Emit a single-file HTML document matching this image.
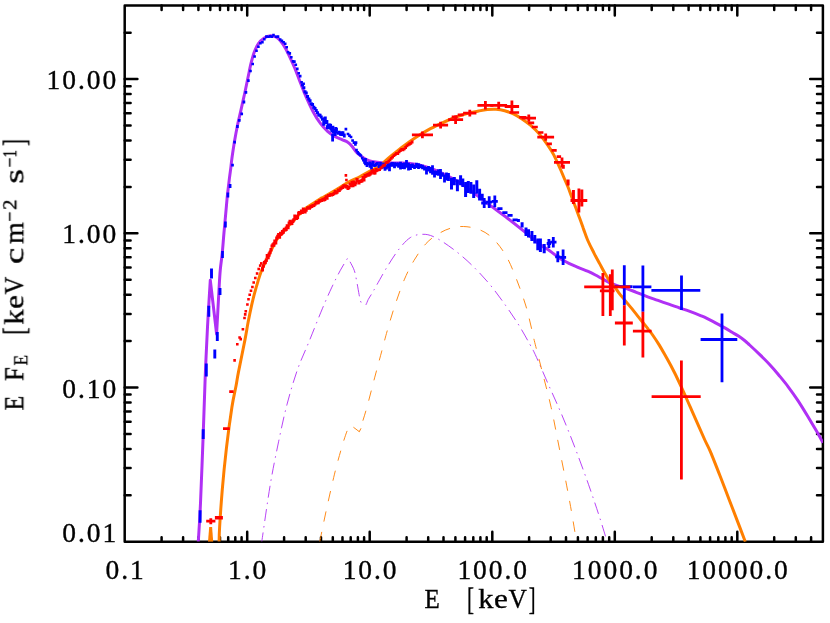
<!DOCTYPE html>
<html><head><meta charset="utf-8"><title>E FE spectrum</title>
<style>html,body{margin:0;padding:0;background:#fff}body{width:830px;height:623px;overflow:hidden;font-family:"Liberation Serif",serif}svg{display:block}</style>
</head><body>
<svg width="830" height="623" viewBox="0 0 830 623">
<rect width="830" height="623" fill="#fff"/>
<defs><clipPath id="cp"><rect x="124.7" y="5.5" width="698.2" height="536.2"/></clipPath></defs>
<g stroke="#000" fill="none">
<rect x="124.7" y="5.5" width="698.2" height="536.2" stroke-width="2.5" stroke-linejoin="round"/>
<path d="M161.6 541.7v-4.4M161.6 5.5v4.4M183.1 541.7v-4.4M183.1 5.5v4.4M198.4 541.7v-4.4M198.4 5.5v4.4M210.3 541.7v-4.4M210.3 5.5v4.4M220.0 541.7v-4.4M220.0 5.5v4.4M228.2 541.7v-4.4M228.2 5.5v4.4M235.3 541.7v-4.4M235.3 5.5v4.4M241.6 541.7v-4.4M241.6 5.5v4.4M247.2 541.7v-9.9M247.2 5.5v9.9M284.1 541.7v-4.4M284.1 5.5v4.4M305.7 541.7v-4.4M305.7 5.5v4.4M321.0 541.7v-4.4M321.0 5.5v4.4M332.8 541.7v-4.4M332.8 5.5v4.4M342.5 541.7v-4.4M342.5 5.5v4.4M350.7 541.7v-4.4M350.7 5.5v4.4M357.9 541.7v-4.4M357.9 5.5v4.4M364.1 541.7v-4.4M364.1 5.5v4.4M369.7 541.7v-9.9M369.7 5.5v9.9M406.6 541.7v-4.4M406.6 5.5v4.4M428.2 541.7v-4.4M428.2 5.5v4.4M443.5 541.7v-4.4M443.5 5.5v4.4M455.4 541.7v-4.4M455.4 5.5v4.4M465.1 541.7v-4.4M465.1 5.5v4.4M473.3 541.7v-4.4M473.3 5.5v4.4M480.4 541.7v-4.4M480.4 5.5v4.4M486.7 541.7v-4.4M486.7 5.5v4.4M492.3 541.7v-9.9M492.3 5.5v9.9M529.1 541.7v-4.4M529.1 5.5v4.4M550.7 541.7v-4.4M550.7 5.5v4.4M566.0 541.7v-4.4M566.0 5.5v4.4M577.9 541.7v-4.4M577.9 5.5v4.4M587.6 541.7v-4.4M587.6 5.5v4.4M595.8 541.7v-4.4M595.8 5.5v4.4M602.9 541.7v-4.4M602.9 5.5v4.4M609.2 541.7v-4.4M609.2 5.5v4.4M614.8 541.7v-9.9M614.8 5.5v9.9M651.7 541.7v-4.4M651.7 5.5v4.4M673.3 541.7v-4.4M673.3 5.5v4.4M688.6 541.7v-4.4M688.6 5.5v4.4M700.4 541.7v-4.4M700.4 5.5v4.4M710.1 541.7v-4.4M710.1 5.5v4.4M718.3 541.7v-4.4M718.3 5.5v4.4M725.4 541.7v-4.4M725.4 5.5v4.4M731.7 541.7v-4.4M731.7 5.5v4.4M737.3 541.7v-9.9M737.3 5.5v9.9M774.2 541.7v-4.4M774.2 5.5v4.4M795.8 541.7v-4.4M795.8 5.5v4.4M811.1 541.7v-4.4M811.1 5.5v4.4M124.7 495.3h5.9M822.9 495.3h-5.9M124.7 468.1h5.9M822.9 468.1h-5.9M124.7 448.9h5.9M822.9 448.9h-5.9M124.7 433.9h5.9M822.9 433.9h-5.9M124.7 421.7h5.9M822.9 421.7h-5.9M124.7 411.4h5.9M822.9 411.4h-5.9M124.7 402.4h5.9M822.9 402.4h-5.9M124.7 394.6h5.9M822.9 394.6h-5.9M124.7 387.5h12.7M822.9 387.5h-12.7M124.7 341.1h5.9M822.9 341.1h-5.9M124.7 313.9h5.9M822.9 313.9h-5.9M124.7 294.7h5.9M822.9 294.7h-5.9M124.7 279.7h5.9M822.9 279.7h-5.9M124.7 267.5h5.9M822.9 267.5h-5.9M124.7 257.2h5.9M822.9 257.2h-5.9M124.7 248.2h5.9M822.9 248.2h-5.9M124.7 240.4h5.9M822.9 240.4h-5.9M124.7 233.3h12.7M822.9 233.3h-12.7M124.7 186.9h5.9M822.9 186.9h-5.9M124.7 159.7h5.9M822.9 159.7h-5.9M124.7 140.5h5.9M822.9 140.5h-5.9M124.7 125.5h5.9M822.9 125.5h-5.9M124.7 113.3h5.9M822.9 113.3h-5.9M124.7 103.0h5.9M822.9 103.0h-5.9M124.7 94.0h5.9M822.9 94.0h-5.9M124.7 86.2h5.9M822.9 86.2h-5.9M124.7 79.1h12.7M822.9 79.1h-12.7M124.7 32.7h5.9M822.9 32.7h-5.9" stroke-width="2.5" stroke-linecap="round"/>
</g>
<g clip-path="url(#cp)" fill="none">
<g stroke="#b030f5" stroke-width="1.0" opacity="0.9">
<path d="M261.8 541.5 C263.2 532.1 267.4 501.7 270.2 485.0 C273.0 468.3 275.9 454.7 278.7 441.2 C281.5 427.7 284.0 415.9 287.1 404.1 C290.2 392.3 293.6 380.8 297.2 370.4 C300.8 360.0 304.8 352.0 309.0 341.7 C313.2 331.4 318.5 317.9 322.3 308.8 C326.1 299.7 328.9 293.5 331.9 287.1 C334.9 280.7 337.8 275.0 340.4 270.2 C343.0 265.4 346.4 260.2 347.6 258.2 C347.9 258.6 348.4 258.8 349.5 260.8 C350.6 262.9 353.1 267.1 354.3 270.5 C355.5 273.9 355.9 277.3 356.7 281.3 C357.5 285.3 358.5 291.4 359.1 294.6 C359.7 297.8 359.8 299.0 360.3 300.5 C360.8 302.0 361.2 303.0 362.2 303.6 C363.2 304.2 365.6 304.3 366.3 304.4 C366.6 303.6 367.3 301.3 368.3 299.4 C369.3 297.5 371.1 294.9 372.3 292.9 C373.5 290.9 372.8 292.0 375.3 287.6 C377.8 283.2 383.3 273.1 387.3 266.6 C391.3 260.1 395.5 253.5 399.4 248.6 C403.3 243.7 406.8 239.8 410.6 237.4 C414.5 235.0 418.5 234.4 422.5 234.3 C426.5 234.2 429.4 234.7 434.5 237.1 C439.6 239.5 446.8 244.4 453.0 249.0 C459.2 253.6 465.4 258.9 471.6 264.9 C477.8 270.9 484.4 277.9 490.1 284.8 C495.8 291.7 501.1 299.1 506.0 306.0 C510.9 312.9 515.3 319.5 519.3 325.9 C523.3 332.3 527.2 339.6 529.9 344.4 C532.6 349.2 532.3 348.3 535.3 354.7 C538.3 361.1 543.3 373.0 547.7 383.0 C552.1 393.0 557.1 403.6 561.8 414.8 C566.5 426.0 571.2 437.7 575.9 450.1 C580.6 462.5 586.0 477.2 590.1 489.0 C594.2 500.8 597.9 512.0 600.7 520.7 C603.5 529.5 606.0 538.0 607.0 541.5" stroke-dasharray="12 5 1.5 5" stroke-dashoffset="2.75"/>
</g>
<g stroke="#ff7f00" stroke-width="1.0" opacity="0.9">
<path d="M319.8 541.5 C320.8 536.6 323.5 523.1 325.9 512.0 C328.3 500.9 331.8 485.3 334.3 474.9 C336.8 464.5 339.0 457.0 341.1 449.6 C343.2 442.2 345.5 434.9 347.2 430.7 C348.9 426.5 350.8 425.5 351.5 424.5" stroke-dasharray="10.4 10.4" stroke-dashoffset="0.4"/>
<path d="M353.4 427.2L359.3 431.7L361 428.3"/>
<path d="M359.3 431.7 C360.5 427.9 363.8 418.2 366.4 409.1 C369.0 400.0 372.1 387.2 374.8 377.1 C377.5 367.0 380.4 356.2 382.5 348.4 C384.6 340.6 385.3 337.5 387.3 330.5 C389.3 323.5 391.8 314.8 394.6 306.4 C397.4 298.0 401.0 287.5 404.2 279.9 C407.4 272.3 410.3 266.6 413.9 260.6 C417.5 254.6 421.9 248.1 425.9 243.7 C429.9 239.3 434.0 236.6 438.0 234.1 C442.0 231.6 445.7 229.7 450.0 228.4 C454.3 227.1 458.7 226.3 463.6 226.5 C468.5 226.7 474.6 227.7 479.5 229.7 C484.4 231.7 488.4 234.1 492.8 238.4 C497.2 242.7 502.0 248.8 506.0 255.7 C510.0 262.6 513.3 271.1 516.6 279.5 C519.9 287.9 523.2 297.2 525.9 306.0 C528.5 314.8 531.1 326.7 532.5 332.5 C533.9 338.3 532.6 334.0 534.3 340.6 C535.9 347.2 539.6 361.2 542.4 372.4 C545.2 383.6 548.6 395.9 551.2 407.7 C553.9 419.5 555.9 431.2 558.3 443.0 C560.6 454.8 563.2 467.8 565.3 478.4 C567.3 489.0 568.7 496.1 570.6 506.6 C572.5 517.1 575.5 535.7 576.5 541.5" stroke-dasharray="10.3 10.46" stroke-dashoffset="9.06"/>
</g>
<path d="M198.3 541.5 C198.7 535.1 199.7 520.8 200.5 503.0 C201.3 485.2 202.4 455.1 203.2 434.6 C204.0 414.1 204.6 393.8 205.1 380.0 C205.6 366.2 205.8 362.6 206.3 352.0 C206.8 341.4 207.4 328.2 208.1 316.2 C208.8 304.2 209.9 286.2 210.3 280.2 L216.6 334 L216.6 334.0 C217.0 326.9 218.3 302.2 218.9 291.5 C219.5 280.8 219.7 276.1 220.3 269.6 C220.9 263.1 221.7 258.9 222.3 252.7 C222.9 246.5 223.4 239.0 224.0 232.5 C224.6 226.0 225.1 220.1 225.7 213.9 C226.3 207.7 226.8 201.0 227.4 195.4 C228.0 189.8 228.7 184.5 229.2 180.2 C229.7 175.9 230.1 173.2 230.6 169.5 C231.1 165.8 231.3 162.5 232.0 157.7 C232.7 152.9 233.7 146.1 234.6 140.8 C235.5 135.5 236.4 130.5 237.4 125.7 C238.4 120.9 239.5 116.7 240.5 112.2 C241.5 107.7 242.5 103.2 243.5 98.7 C244.5 94.2 245.5 89.7 246.4 85.2 C247.3 80.7 248.4 75.5 249.2 71.7 C250.0 67.9 250.4 65.5 251.3 62.2 C252.2 58.9 253.2 54.9 254.4 51.8 C255.6 48.7 256.8 45.9 258.4 43.6 C260.0 41.3 262.3 39.3 264.3 38.0 C266.3 36.7 268.4 35.8 270.4 35.7 C272.4 35.6 274.6 36.3 276.4 37.3 C278.2 38.3 279.6 39.9 281.2 41.9 C282.8 43.9 284.4 46.4 286.0 49.3 C287.6 52.2 289.2 55.8 290.8 59.3 C292.4 62.8 294.1 66.5 295.7 70.4 C297.3 74.4 298.8 78.7 300.5 83.0 C302.2 87.3 303.8 91.7 305.9 96.5 C308.0 101.3 310.7 107.3 313.1 111.8 C315.5 116.3 318.0 120.2 320.4 123.4 C322.8 126.7 325.2 129.1 327.6 131.3 C330.0 133.5 332.4 135.0 334.8 136.4 C337.2 137.8 339.8 138.6 342.0 139.6 C344.2 140.6 346.1 141.0 347.8 142.2 C349.5 143.3 350.8 144.8 352.2 146.5 C353.6 148.2 355.1 150.8 356.5 152.3 C357.9 153.8 358.8 154.4 360.4 155.6 C362.0 156.8 364.1 158.3 366.0 159.3 C367.9 160.3 369.0 160.8 372.0 161.4 C375.0 162.0 380.1 162.6 384.1 162.9 C388.1 163.2 392.1 162.9 396.1 163.0 C400.1 163.1 404.2 162.8 408.2 163.2 C412.2 163.6 416.2 164.4 420.2 165.3 C424.2 166.2 428.3 167.4 432.3 168.9 C436.3 170.4 440.3 172.4 444.3 174.3 C448.3 176.2 452.8 178.5 456.4 180.6 C460.0 182.7 463.2 184.9 466.1 187.0 C469.0 189.1 469.7 189.8 473.7 192.9 C477.7 196.0 484.6 201.2 490.2 205.4 C495.8 209.6 501.9 213.9 507.5 218.2 C513.1 222.5 518.7 227.0 524.1 231.4 C529.5 235.8 535.8 241.3 540.0 244.5 C544.2 247.7 546.4 248.4 549.6 250.7 C552.8 252.9 556.1 255.9 559.3 258.0 C562.5 260.1 565.7 261.7 568.9 263.3 C572.1 264.9 575.4 266.2 578.6 267.6 C581.8 269.0 585.0 269.9 588.2 271.4 C591.4 272.8 594.6 274.6 597.8 276.3 C601.0 278.0 604.6 280.2 607.5 281.6 C610.4 283.1 612.2 283.9 615.2 285.0 C618.2 286.1 621.9 286.9 625.4 288.1 C628.9 289.3 632.7 290.9 636.3 292.3 C639.9 293.7 643.5 295.2 647.1 296.6 C650.7 298.0 654.4 299.1 658.0 300.4 C661.6 301.7 665.2 302.9 668.8 304.2 C672.4 305.5 676.0 306.8 679.6 308.0 C683.2 309.2 687.0 310.4 690.5 311.7 C694.0 313.0 697.9 314.5 700.5 315.6 C703.1 316.7 704.4 317.2 706.4 318.2 C708.4 319.2 710.6 320.3 712.8 321.4 C714.9 322.5 717.1 323.7 719.3 324.9 C721.4 326.1 723.6 327.2 725.7 328.4 C727.8 329.6 730.0 331.0 732.1 332.3 C734.2 333.6 736.4 334.7 738.5 336.1 C740.6 337.5 743.0 339.3 744.9 340.8 C746.8 342.3 747.2 342.8 749.6 345.0 C752.0 347.2 756.1 351.0 759.3 354.1 C762.5 357.2 765.7 360.3 768.9 363.7 C772.1 367.1 775.3 370.8 778.5 374.7 C781.7 378.6 785.0 382.5 788.2 386.8 C791.4 391.1 794.6 395.5 797.8 400.3 C801.0 405.1 804.2 410.4 807.4 415.7 C810.6 421.0 814.5 427.6 817.1 432.1 C819.7 436.6 821.9 440.9 822.9 442.7" stroke="#b030f5" stroke-width="3.0" stroke-linejoin="round"/>
<path d="M219.1 541.5 C219.2 539.2 219.1 536.2 219.6 527.5 C220.1 518.8 221.2 502.5 222.3 489.3 C223.4 476.1 224.8 462.0 226.4 448.3 C228.0 434.6 230.3 417.7 231.9 407.3 C233.5 396.9 234.9 391.8 236.0 386.0 C237.1 380.2 236.9 380.1 238.4 372.4 C239.9 364.7 243.4 348.0 245.0 339.6 C246.6 331.2 247.0 328.1 248.1 322.3 C249.2 316.5 250.4 310.7 251.7 304.9 C253.0 299.1 254.5 293.1 256.1 287.6 C257.7 282.1 259.3 276.5 261.1 271.7 C262.9 266.9 265.2 262.3 266.9 258.7 C268.6 255.1 269.8 252.9 271.3 250.0 C272.8 247.1 274.2 243.6 275.7 241.2 C277.1 238.8 278.4 237.2 280.0 235.3 C281.6 233.4 283.3 231.4 285.0 229.6 C286.7 227.8 288.3 226.0 290.0 224.3 C291.7 222.6 293.3 220.9 295.0 219.2 C296.7 217.4 298.1 215.7 300.0 213.8 C301.9 211.9 304.1 209.7 306.5 207.8 C308.9 206.0 311.9 204.2 314.2 202.7 C316.4 201.2 318.4 199.9 320.0 198.9 C321.6 197.9 321.4 198.2 324.1 196.7 C326.8 195.2 332.1 192.2 336.1 189.8 C340.1 187.4 344.2 184.5 348.2 182.3 C352.2 180.1 356.2 178.6 360.2 176.5 C364.2 174.4 369.0 171.6 372.3 169.9 C375.6 168.2 378.0 167.4 380.0 166.1 C382.0 164.8 382.3 163.6 384.3 161.8 C386.3 160.0 388.7 157.9 392.0 155.2 C395.3 152.5 400.1 148.6 404.1 145.6 C408.1 142.6 412.1 139.8 416.1 137.2 C420.1 134.6 424.2 132.1 428.2 129.9 C432.2 127.7 436.2 125.8 440.2 123.9 C444.2 122.0 448.3 120.1 452.3 118.5 C456.3 116.9 461.4 115.2 464.3 114.3 C467.2 113.4 467.6 113.5 470.0 112.9 C472.4 112.4 475.8 111.6 478.7 111.0 C481.6 110.4 484.4 109.8 487.3 109.5 C490.2 109.2 493.1 109.0 496.0 109.2 C498.9 109.4 501.8 109.9 504.7 110.7 C507.6 111.5 510.5 112.5 513.4 113.9 C516.3 115.3 519.1 117.0 522.0 118.9 C524.9 120.8 527.8 122.9 530.7 125.4 C533.6 127.9 536.5 130.7 539.4 134.1 C542.3 137.5 545.7 142.2 548.1 145.7 C550.5 149.2 551.9 151.2 553.9 155.1 C555.9 159.0 558.6 165.2 560.3 169.0 C562.0 172.8 562.8 175.0 564.1 178.0 C565.4 181.0 566.7 183.8 568.0 187.0 C569.3 190.2 570.5 193.8 571.8 197.2 C573.1 200.6 574.4 204.1 575.7 207.5 C577.0 210.9 578.2 214.4 579.5 217.8 C580.8 221.2 581.9 224.4 583.2 228.1 C584.6 231.8 585.8 235.8 587.6 240.0 C589.4 244.2 592.0 249.1 594.0 253.1 C596.0 257.1 597.9 260.4 599.8 263.9 C601.7 267.4 603.7 271.3 605.5 274.3 C607.3 277.3 608.6 279.6 610.4 282.0 C612.2 284.4 614.5 286.7 616.1 288.8 C617.7 290.9 617.5 291.3 620.0 294.4 C622.5 297.5 627.2 303.0 630.8 307.4 C634.4 311.8 638.8 317.4 641.7 321.0 C644.6 324.6 646.6 327.0 648.2 329.1 C649.9 331.2 649.8 330.8 651.6 333.5 C653.5 336.2 656.7 340.9 659.3 345.1 C661.9 349.3 664.4 354.0 667.0 358.6 C669.6 363.2 672.1 367.9 674.7 373.0 C677.3 378.1 679.8 383.8 682.4 389.4 C685.0 395.0 687.5 400.9 690.1 406.7 C692.7 412.5 695.4 418.6 697.8 424.1 C700.2 429.6 702.5 434.8 704.6 439.5 C706.7 444.2 708.1 446.2 710.6 452.1 C713.1 458.1 716.7 467.4 719.8 475.2 C722.9 483.0 725.9 491.2 729.0 499.2 C732.1 507.2 735.5 516.0 738.2 523.1 C740.9 530.2 744.1 538.6 745.3 541.7" stroke="#ff7f00" stroke-width="3.0" stroke-linejoin="round"/>
<path d="M208.0 541.7L209.2 527.1H212.1L213.2 541.7Z" fill="#ff7f00" stroke="none"/>
<g stroke="#0000ff" stroke-linecap="butt">
<path d="M211.5 268.5V278.5" stroke-width="2.9"/>
<path d="M220.0 288.0V295.0" stroke-width="2.9"/>
<path d="M208.8 305.7V316.7" stroke-width="2.9"/>
<path d="M217.3 331.9V340.9" stroke-width="2.9"/>
<path d="M214.8 349.4V358.4" stroke-width="2.9"/>
<path d="M206.3 363.6V376.6" stroke-width="2.9"/>
<path d="M203.2 429.3V438.9" stroke-width="2.9"/>
<path d="M200.1 510.2V522.8" stroke-width="2.9"/>
<path d="M222.5 250.9V257.9" stroke-width="2.7"/>
<path d="M225.4 221.4V227.4" stroke-width="2.7"/>
<path d="M227.9 192.5V197.5" stroke-width="2.7"/>
<path d="M230.1 184.1V188.1" stroke-width="2.7"/>
<path d="M232.5 163.8V166.6" stroke-width="2.7"/>
<path d="M234.6 140.8V143.6" stroke-width="2.7"/>
<path d="M237.4 125.1V127.9" stroke-width="2.7"/>
<path d="M239.3 118.9V121.7" stroke-width="2.7"/>
<path d="M241.7 112.5V115.3" stroke-width="2.7"/>
<path d="M243.9 100.6V103.4" stroke-width="2.7"/>
<path d="M245.9 91.0V93.8" stroke-width="2.7"/>
<path d="M248.4 79.3V81.9" stroke-width="2.6"/>
<path d="M250.5 69.7V72.3" stroke-width="2.6"/>
<path d="M252.7 62.7V65.3" stroke-width="2.6"/>
<path d="M254.6 55.2V57.8" stroke-width="2.6"/>
<path d="M256.5 49.4V52.0" stroke-width="2.6"/>
<path d="M258.4 45.4V48.0" stroke-width="2.6"/>
<path d="M260.4 42.0V44.6" stroke-width="2.6"/>
<path d="M262.4 40.9V43.5" stroke-width="2.6"/>
<path d="M264.3 38.0V40.6" stroke-width="2.6"/>
<path d="M266.4 35.3V37.9" stroke-width="2.6"/>
<path d="M268.4 35.5V38.1" stroke-width="2.6"/>
<path d="M270.3 35.1V37.7" stroke-width="2.6"/>
<path d="M271.9 35.5V38.1" stroke-width="2.6"/>
<path d="M273.5 33.8V36.4" stroke-width="2.6"/>
<path d="M276.1 35.5V38.1" stroke-width="2.6"/>
<path d="M278.0 35.3V37.9" stroke-width="2.6"/>
<path d="M280.2 38.2V40.8" stroke-width="2.6"/>
<path d="M281.9 39.6V42.2" stroke-width="2.6"/>
<path d="M283.6 41.0V43.6" stroke-width="2.6"/>
<path d="M285.2 42.5V45.1" stroke-width="2.6"/>
<path d="M286.7 45.9V48.5" stroke-width="2.6"/>
<path d="M288.1 51.0V53.6" stroke-width="2.6"/>
<path d="M289.8 52.1V54.7" stroke-width="2.6"/>
<path d="M291.3 56.0V58.6" stroke-width="2.6"/>
<path d="M293.0 60.1V62.7" stroke-width="2.6"/>
<path d="M294.4 60.3V62.9" stroke-width="2.6"/>
<path d="M295.8 63.4V66.0" stroke-width="2.6"/>
<path d="M297.3 67.6V70.2" stroke-width="2.6"/>
<path d="M298.7 71.9V74.5" stroke-width="2.6"/>
<path d="M300.2 74.8V77.4" stroke-width="2.6"/>
<path d="M301.6 81.0V83.6" stroke-width="2.6"/>
<path d="M303.6 82.5V85.1" stroke-width="2.6"/>
<path d="M302.5 83.6V86.6" stroke-width="3.1"/>
<path d="M303.8 86.3V89.3" stroke-width="3.1"/>
<path d="M305.0 90.2V93.2" stroke-width="3.1"/>
<path d="M306.2 91.6V94.6" stroke-width="3.1"/>
<path d="M307.5 95.1V98.1" stroke-width="3.1"/>
<path d="M308.8 97.4V100.4" stroke-width="3.1"/>
<path d="M310.0 99.3V102.3" stroke-width="3.1"/>
<path d="M311.2 102.2V105.2" stroke-width="3.1"/>
<path d="M312.5 103.1V106.1" stroke-width="3.1"/>
<path d="M313.8 105.7V108.7" stroke-width="3.1"/>
<path d="M315.0 107.0V110.0" stroke-width="3.1"/>
<path d="M316.2 108.9V111.9" stroke-width="3.1"/>
<path d="M317.5 111.2V114.2" stroke-width="3.1"/>
<path d="M318.8 113.5V116.5" stroke-width="3.1"/>
<path d="M320.0 113.7V116.7" stroke-width="3.1"/>
<path d="M321.2 115.5V118.5" stroke-width="3.1"/>
<path d="M322.5 117.8V120.8" stroke-width="3.1"/>
<path d="M323.8 120.7V125.8" stroke-width="3.1"/>
<path d="M324.5 117.6V123.9" stroke-width="3.1"/>
<path d="M325.2 116.6V122.6" stroke-width="3.1"/>
<path d="M326.0 120.2V123.9" stroke-width="3.1"/>
<path d="M326.8 119.9V124.1" stroke-width="3.1"/>
<path d="M327.5 125.2V129.0" stroke-width="3.1"/>
<path d="M328.2 124.0V129.2" stroke-width="3.1"/>
<path d="M329.0 123.7V128.7" stroke-width="3.1"/>
<path d="M329.8 123.5V126.9" stroke-width="3.1"/>
<path d="M330.5 124.0V129.3" stroke-width="3.1"/>
<path d="M331.2 126.4V130.6" stroke-width="3.1"/>
<path d="M332.0 127.6V132.2" stroke-width="3.1"/>
<path d="M332.8 125.8V131.5" stroke-width="3.1"/>
<path d="M333.5 129.5V133.4" stroke-width="3.1"/>
<path d="M334.2 128.7V133.6" stroke-width="3.1"/>
<path d="M335.0 130.5V136.1" stroke-width="3.1"/>
<path d="M335.8 127.0V133.3" stroke-width="3.1"/>
<path d="M336.5 128.0V131.7" stroke-width="2.8"/>
<path d="M337.8 131.7V134.8" stroke-width="2.8"/>
<path d="M339.1 130.8V133.7" stroke-width="2.8"/>
<path d="M340.4 131.4V135.7" stroke-width="2.8"/>
<path d="M341.7 131.6V136.1" stroke-width="2.8"/>
<path d="M343.0 131.3V135.5" stroke-width="2.8"/>
<path d="M344.3 133.5V137.5" stroke-width="2.8"/>
<path d="M332.6 133.9V141.5" stroke-width="2.8"/>
<path d="M345.9 127.8V130.5" stroke-width="2.7"/>
<path d="M348.0 132.7V135.3" stroke-width="2.7"/>
<path d="M349.5 134.2V136.9" stroke-width="2.7"/>
<path d="M351.0 135.7V138.3" stroke-width="2.7"/>
<path d="M352.6 139.2V141.8" stroke-width="2.7"/>
<path d="M354.0 141.2V143.9" stroke-width="2.7"/>
<path d="M355.4 143.1V145.8" stroke-width="2.7"/>
<path d="M356.0 141.2V143.9" stroke-width="2.7"/>
<path d="M356.5 148.8V151.4" stroke-width="2.7"/>
<path d="M357.7 151.0V153.7" stroke-width="2.7"/>
<path d="M358.7 152.3V155.0" stroke-width="2.7"/>
<path d="M359.8 153.2V155.8" stroke-width="2.7"/>
<path d="M360.8 154.2V156.8" stroke-width="2.7"/>
<path d="M362.3 156.8V159.4" stroke-width="2.7"/>
<path d="M363.4 158.8V161.5" stroke-width="2.7"/>
<path d="M364.5 161.1V163.8" stroke-width="2.7"/>
<path d="M365.5 158.1V165.3" stroke-width="2.8"/>
<path d="M367.0 161.7V167.1" stroke-width="2.8"/>
<path d="M368.5 162.3V165.6" stroke-width="2.8"/>
<path d="M370.0 161.4V167.7" stroke-width="2.8"/>
<path d="M371.5 162.5V169.6" stroke-width="2.8"/>
<path d="M373.0 161.1V166.0" stroke-width="2.8"/>
<path d="M374.5 163.8V166.9" stroke-width="2.8"/>
<path d="M376.0 162.8V166.6" stroke-width="2.8"/>
<path d="M377.5 161.9V165.2" stroke-width="2.8"/>
<path d="M379.0 164.5V168.1" stroke-width="2.8"/>
<path d="M380.5 161.9V166.9" stroke-width="2.8"/>
<path d="M382.0 165.3V168.7" stroke-width="2.8"/>
<path d="M383.5 162.6V168.3" stroke-width="2.8"/>
<path d="M385.0 163.7V170.8" stroke-width="2.8"/>
<path d="M386.5 165.1V169.5" stroke-width="2.8"/>
<path d="M388.0 163.1V167.9" stroke-width="2.8"/>
<path d="M389.5 163.5V171.3" stroke-width="2.8"/>
<path d="M391.0 162.5V166.4" stroke-width="2.8"/>
<path d="M392.5 162.1V166.8" stroke-width="2.8"/>
<path d="M394.5 162.3V168.3" stroke-width="2.8"/>
<path d="M396.5 162.5V166.6" stroke-width="2.8"/>
<path d="M398.5 162.4V167.8" stroke-width="2.8"/>
<path d="M400.5 161.8V169.5" stroke-width="2.8"/>
<path d="M402.5 163.0V169.1" stroke-width="2.8"/>
<path d="M404.5 162.4V169.2" stroke-width="2.8"/>
<path d="M406.5 159.9V167.8" stroke-width="2.8"/>
<path d="M408.5 162.7V170.6" stroke-width="2.8"/>
<path d="M410.5 164.0V169.9" stroke-width="2.8"/>
<path d="M412.5 163.5V168.0" stroke-width="2.8"/>
<path d="M414.5 164.8V169.1" stroke-width="2.8"/>
<path d="M416.5 162.8V167.9" stroke-width="2.8"/>
<path d="M418.5 163.2V169.0" stroke-width="2.8"/>
<path d="M420.5 164.2V168.2" stroke-width="2.8"/>
<path d="M422.5 164.7V169.3" stroke-width="2.8"/>
<path d="M424.5 166.2V170.4" stroke-width="2.8"/>
<path d="M426.5 166.9V174.5" stroke-width="2.8"/>
<path d="M428.5 165.9V171.5" stroke-width="2.8"/>
<path d="M430.5 167.0V173.2" stroke-width="2.8"/>
<path d="M432.5 165.3V174.8" stroke-width="2.8"/>
<path d="M434.5 170.4V177.5" stroke-width="2.8"/>
<path d="M436.5 170.7V175.3" stroke-width="2.8"/>
<path d="M438.5 169.3V175.7" stroke-width="2.8"/>
<path d="M440.5 169.1V179.0" stroke-width="2.8"/>
<path d="M442.5 172.5V176.7" stroke-width="2.8"/>
<path d="M444.5 174.5V182.4" stroke-width="2.8"/>
<path d="M446.5 172.5V180.6" stroke-width="2.8"/>
<path d="M448.5 173.0V181.1" stroke-width="2.8"/>
<path d="M451.5 177.7V189.5" stroke-width="3.0"/>
<path d="M454.3 176.9V185.3" stroke-width="3.0"/>
<path d="M457.4 179.4V191.2" stroke-width="3.0"/>
<path d="M460.6 175.2V185.2" stroke-width="3.0"/>
<path d="M462.8 178.6V187.0" stroke-width="3.0"/>
<path d="M465.6 181.9V197.1" stroke-width="3.0"/>
<path d="M468.3 181.1V192.9" stroke-width="3.0"/>
<path d="M470.9 181.9V193.7" stroke-width="3.0"/>
<path d="M473.7 184.5V197.9" stroke-width="3.0"/>
<path d="M476.8 180.3V193.7" stroke-width="3.0"/>
<path d="M479.6 188.7V200.5" stroke-width="3.0"/>
<path d="M482.2 193.7V200.5" stroke-width="3.0"/>
<path d="M484.2 198.0V208.0M481.2 203.0H487.2" stroke-width="2.8"/>
<path d="M489.2 196.3V208.1M486.2 202.2H492.2" stroke-width="2.8"/>
<path d="M494.8 195.4V207.2M491.8 201.3H497.8" stroke-width="2.8"/>
<path d="M499.9 207.4V209.8M497.3 208.6H502.5" stroke-width="2.8"/>
<path d="M504.9 211.4V213.8M502.3 212.6H507.5" stroke-width="2.8"/>
<path d="M510.0 214.1V216.5M507.4 215.3H512.6" stroke-width="2.8"/>
<path d="M515.1 218.7V221.1M512.5 219.9H517.7" stroke-width="2.8"/>
<path d="M518.4 218.9V221.9" stroke-width="3.0"/>
<path d="M522.1 222.3V227.5" stroke-width="3.0"/>
<path d="M526.0 227.5V235.9" stroke-width="3.0"/>
<path d="M528.5 229.2V237.6" stroke-width="3.0"/>
<path d="M531.9 230.9V240.9" stroke-width="3.0"/>
<path d="M534.8 235.1V243.5" stroke-width="3.0"/>
<path d="M537.8 238.4V250.2" stroke-width="3.0"/>
<path d="M540.4 238.5V251.9" stroke-width="3.0"/>
<path d="M544.2 244.0V253.2" stroke-width="3.0"/>
<path d="M548.9 238.9V248.1M546.7 243.5H551.1" stroke-width="2.8"/>
<path d="M553.3 236.9V247.5M550.1 242.2H556.5" stroke-width="2.8"/>
<path d="M557.8 251.3V262.3M555.2 256.8H560.4" stroke-width="2.8"/>
<path d="M563.1 249.6V265.0M560.1 257.3H566.1" stroke-width="2.8"/>
<path d="M624.3 265.2V305.2M614.5 286.6H632.6" stroke-width="2.8"/>
<path d="M642.9 265.6V311.7M633.0 286.8H651.4" stroke-width="2.8"/>
<path d="M681.5 275.4V310.1M651.4 290.4H700.3" stroke-width="2.8"/>
<path d="M722.0 313.4V382.2M700.6 339.5H737.3" stroke-width="2.8"/>
</g>
<g stroke="#ff0000">
<path d="M214.9 517.7H222.9" stroke-width="3.4"/>
<path d="M210.8 518.2V524.2M206.2 521.2H215.4" stroke-width="2.8"/>
<path d="M223.0 428.6H229.8" stroke-width="2.6"/>
<path d="M229.2 391.7H233.6" stroke-width="2.8"/>
<path d="M234.6 359.1V361.7" stroke-width="2.6"/>
<path d="M237.3 343.0V345.6" stroke-width="2.6"/>
<path d="M239.6 336.2V338.8" stroke-width="2.6"/>
<path d="M240.7 337.8V340.4" stroke-width="2.6"/>
<path d="M242.9 327.9V330.5" stroke-width="2.6"/>
<path d="M244.5 316.7V319.3" stroke-width="2.6"/>
<path d="M245.2 313.1V315.7" stroke-width="2.6"/>
<path d="M245.8 309.9V312.5" stroke-width="2.6"/>
<path d="M247.4 303.2V305.8" stroke-width="2.6"/>
<path d="M248.5 298.0V300.6" stroke-width="2.6"/>
<path d="M249.7 293.5V296.1" stroke-width="2.6"/>
<path d="M251.0 289.5V292.1" stroke-width="2.6"/>
<path d="M252.4 285.7V288.3" stroke-width="2.6"/>
<path d="M253.7 281.2V283.8" stroke-width="2.6"/>
<path d="M255.3 276.7V279.3" stroke-width="2.6"/>
<path d="M257.1 272.2V274.8" stroke-width="2.6"/>
<path d="M258.7 267.7V270.3" stroke-width="2.6"/>
<path d="M260.2 264.3V266.9" stroke-width="2.6"/>
<path d="M261.3 262.1V264.7" stroke-width="2.6"/>
<path d="M262.5 267.1V271.5" stroke-width="3.0"/>
<path d="M263.4 264.3V267.7" stroke-width="3.0"/>
<path d="M264.4 261.0V264.3" stroke-width="3.0"/>
<path d="M265.3 260.3V264.2" stroke-width="3.0"/>
<path d="M266.3 258.5V262.0" stroke-width="3.0"/>
<path d="M267.2 253.9V258.2" stroke-width="3.0"/>
<path d="M268.2 255.0V259.3" stroke-width="3.0"/>
<path d="M269.1 252.4V256.7" stroke-width="3.0"/>
<path d="M270.1 250.8V254.2" stroke-width="3.0"/>
<path d="M271.0 248.0V251.5" stroke-width="3.0"/>
<path d="M272.0 244.4V247.4" stroke-width="3.0"/>
<path d="M272.9 243.2V246.6" stroke-width="3.0"/>
<path d="M273.9 242.3V246.8" stroke-width="3.0"/>
<path d="M274.8 239.5V244.0" stroke-width="3.0"/>
<path d="M275.8 239.9V244.5" stroke-width="3.0"/>
<path d="M276.7 236.5V239.9" stroke-width="3.0"/>
<path d="M277.7 234.7V238.0" stroke-width="3.0"/>
<path d="M278.6 233.0V237.0" stroke-width="3.0"/>
<path d="M279.6 234.4V238.8" stroke-width="3.0"/>
<path d="M280.5 231.7V235.8" stroke-width="3.0"/>
<path d="M281.5 232.3V235.5" stroke-width="3.0"/>
<path d="M282.4 230.0V234.5" stroke-width="3.0"/>
<path d="M283.4 229.6V233.8" stroke-width="3.0"/>
<path d="M284.3 227.8V231.1" stroke-width="3.0"/>
<path d="M285.3 227.9V231.4" stroke-width="3.0"/>
<path d="M286.2 226.4V230.9" stroke-width="3.0"/>
<path d="M287.2 224.2V227.8" stroke-width="3.0"/>
<path d="M288.1 225.1V229.3" stroke-width="3.0"/>
<path d="M289.1 221.5V224.7" stroke-width="3.0"/>
<path d="M290.0 219.8V224.3" stroke-width="3.0"/>
<path d="M291.0 222.1V225.3" stroke-width="3.0"/>
<path d="M291.9 220.5V225.1" stroke-width="3.0"/>
<path d="M292.9 219.4V223.0" stroke-width="3.0"/>
<path d="M293.8 218.2V221.4" stroke-width="3.0"/>
<path d="M294.8 214.4V218.9" stroke-width="3.0"/>
<path d="M295.7 216.3V220.1" stroke-width="3.0"/>
<path d="M296.7 216.4V220.1" stroke-width="3.0"/>
<path d="M297.6 214.8V219.1" stroke-width="3.0"/>
<path d="M298.6 211.6V215.0" stroke-width="3.0"/>
<path d="M299.5 210.9V214.3" stroke-width="3.0"/>
<path d="M300.5 211.1V214.6" stroke-width="3.0"/>
<path d="M301.4 209.6V212.8" stroke-width="3.0"/>
<path d="M302.4 210.5V214.1" stroke-width="3.0"/>
<path d="M303.3 207.6V211.5" stroke-width="3.0"/>
<path d="M304.3 208.6V212.3" stroke-width="3.0"/>
<path d="M305.2 210.1V213.4" stroke-width="2.8"/>
<path d="M306.3 208.3V211.7" stroke-width="2.8"/>
<path d="M307.4 206.4V209.7" stroke-width="2.8"/>
<path d="M308.5 206.2V209.0" stroke-width="2.8"/>
<path d="M309.6 206.8V209.7" stroke-width="2.8"/>
<path d="M310.7 205.1V208.6" stroke-width="2.8"/>
<path d="M311.8 204.8V207.9" stroke-width="2.8"/>
<path d="M312.9 203.9V207.2" stroke-width="2.8"/>
<path d="M314.0 204.0V206.9" stroke-width="2.8"/>
<path d="M315.1 202.7V205.7" stroke-width="2.8"/>
<path d="M316.2 201.1V204.6" stroke-width="2.8"/>
<path d="M317.3 200.9V204.3" stroke-width="2.8"/>
<path d="M318.4 200.6V204.3" stroke-width="2.8"/>
<path d="M319.5 199.3V202.8" stroke-width="2.8"/>
<path d="M320.6 198.9V202.2" stroke-width="2.8"/>
<path d="M321.7 198.7V202.0" stroke-width="2.8"/>
<path d="M322.8 197.8V201.1" stroke-width="2.8"/>
<path d="M323.9 198.0V201.5" stroke-width="2.8"/>
<path d="M325.0 197.1V200.9" stroke-width="2.8"/>
<path d="M326.1 195.3V198.7" stroke-width="2.8"/>
<path d="M327.2 196.1V199.7" stroke-width="2.8"/>
<path d="M328.3 194.0V197.0" stroke-width="2.8"/>
<path d="M329.4 194.1V197.0" stroke-width="2.8"/>
<path d="M330.6 193.0V195.9" stroke-width="2.8"/>
<path d="M331.7 193.0V196.6" stroke-width="2.8"/>
<path d="M332.8 193.2V196.1" stroke-width="2.8"/>
<path d="M333.9 191.9V195.3" stroke-width="2.8"/>
<path d="M335.0 189.9V193.5" stroke-width="2.8"/>
<path d="M336.1 191.3V194.4" stroke-width="2.8"/>
<path d="M337.2 190.6V193.8" stroke-width="2.8"/>
<path d="M338.3 188.6V192.3" stroke-width="2.8"/>
<path d="M339.4 189.0V192.0" stroke-width="2.8"/>
<path d="M340.5 187.3V190.6" stroke-width="2.8"/>
<path d="M341.6 186.5V189.5" stroke-width="2.8"/>
<path d="M342.7 185.5V189.0" stroke-width="2.8"/>
<path d="M343.8 184.2V187.6" stroke-width="2.8"/>
<path d="M344.9 184.7V187.6" stroke-width="2.8"/>
<path d="M346.0 184.5V188.5" stroke-width="3.0"/>
<path d="M347.0 185.1V188.2" stroke-width="3.0"/>
<path d="M348.0 185.9V190.1" stroke-width="3.0"/>
<path d="M349.0 185.8V189.0" stroke-width="3.0"/>
<path d="M350.0 182.5V185.6" stroke-width="3.0"/>
<path d="M351.0 183.9V187.3" stroke-width="3.0"/>
<path d="M352.0 180.7V184.3" stroke-width="3.0"/>
<path d="M353.0 183.0V187.3" stroke-width="3.0"/>
<path d="M354.0 180.5V183.7" stroke-width="3.0"/>
<path d="M355.0 182.3V186.2" stroke-width="3.0"/>
<path d="M356.0 181.4V184.5" stroke-width="3.0"/>
<path d="M357.0 177.9V182.0" stroke-width="3.0"/>
<path d="M358.0 179.4V182.5" stroke-width="3.0"/>
<path d="M359.0 180.5V184.5" stroke-width="3.0"/>
<path d="M360.0 179.9V183.0" stroke-width="3.0"/>
<path d="M361.0 179.6V182.7" stroke-width="3.0"/>
<path d="M362.0 178.8V182.5" stroke-width="3.0"/>
<path d="M363.0 176.1V179.9" stroke-width="3.0"/>
<path d="M364.0 178.1V181.5" stroke-width="3.0"/>
<path d="M365.0 174.1V178.0" stroke-width="3.0"/>
<path d="M366.0 174.4V177.5" stroke-width="3.0"/>
<path d="M367.0 173.5V176.6" stroke-width="3.0"/>
<path d="M368.0 172.9V176.4" stroke-width="3.0"/>
<path d="M369.0 172.4V176.6" stroke-width="3.0"/>
<path d="M370.0 172.0V175.8" stroke-width="3.0"/>
<path d="M371.0 171.2V174.7" stroke-width="3.0"/>
<path d="M372.0 170.1V173.5" stroke-width="3.0"/>
<path d="M373.0 169.1V173.3" stroke-width="3.0"/>
<path d="M374.0 171.2V174.5" stroke-width="3.0"/>
<path d="M375.0 169.9V174.4" stroke-width="3.0"/>
<path d="M376.0 168.0V172.3" stroke-width="3.0"/>
<path d="M377.0 168.9V171.7" stroke-width="2.8"/>
<path d="M378.3 168.4V171.2" stroke-width="2.8"/>
<path d="M379.6 168.3V171.1" stroke-width="2.8"/>
<path d="M380.9 166.6V169.4" stroke-width="2.8"/>
<path d="M382.2 165.4V168.2" stroke-width="2.8"/>
<path d="M383.5 164.3V167.1" stroke-width="2.8"/>
<path d="M384.8 163.6V166.4" stroke-width="2.8"/>
<path d="M386.1 161.3V164.1" stroke-width="2.8"/>
<path d="M387.4 161.0V163.8" stroke-width="2.8"/>
<path d="M388.7 159.7V162.5" stroke-width="2.8"/>
<path d="M390.0 158.4V161.2" stroke-width="2.8"/>
<path d="M391.3 156.9V159.7" stroke-width="2.8"/>
<path d="M392.6 155.8V158.6" stroke-width="2.8"/>
<path d="M393.9 154.2V157.0" stroke-width="2.8"/>
<path d="M395.2 153.3V156.1" stroke-width="2.8"/>
<path d="M396.5 152.1V154.9" stroke-width="2.8"/>
<path d="M397.8 152.3V155.1" stroke-width="2.8"/>
<path d="M399.1 150.4V153.2" stroke-width="2.8"/>
<path d="M400.4 149.2V152.0" stroke-width="2.8"/>
<path d="M401.7 148.0V150.8" stroke-width="2.8"/>
<path d="M403.0 148.4V151.2" stroke-width="2.8"/>
<path d="M404.3 147.5V150.3" stroke-width="2.8"/>
<path d="M405.6 146.1V148.9" stroke-width="2.8"/>
<path d="M406.9 144.5V147.3" stroke-width="2.8"/>
<path d="M408.2 143.5V146.3" stroke-width="2.8"/>
<path d="M409.5 142.6V145.4" stroke-width="2.8"/>
<path d="M410.8 142.0V144.8" stroke-width="2.8"/>
<path d="M412.1 140.6V143.4" stroke-width="2.8"/>
<path d="M345.9 174.1V176.7" stroke-width="2.6"/>
<path d="M346.4 178.7V181.3" stroke-width="2.6"/>
<path d="M422.4 131.4V138.2M411.9 134.8H433.0" stroke-width="2.8"/>
<path d="M440.6 121.7V128.5M433.0 125.1H448.1" stroke-width="2.8"/>
<path d="M455.6 115.5V123.9M448.1 119.7H463.1" stroke-width="2.8"/>
<path d="M451.7 116.7H457.7" stroke-width="2.6"/>
<path d="M457.7 114.9H463.7" stroke-width="2.6"/>
<path d="M469.8 109.8V116.4M463.1 113.1H476.4" stroke-width="2.8"/>
<path d="M485.4 101.0V109.6M477.4 105.3H493.4" stroke-width="2.8"/>
<path d="M498.7 101.7V108.9M490.3 105.3H507.1" stroke-width="2.8"/>
<path d="M511.9 100.5V112.5M504.7 106.5H519.1" stroke-width="2.8"/>
<path d="M509.5 112.5H519.1" stroke-width="2.6"/>
<path d="M519.2 117.3H526.4" stroke-width="2.6"/>
<path d="M528.8 114.5V121.7M521.6 118.1H536.0" stroke-width="2.8"/>
<path d="M528.2 122.9H534.2" stroke-width="2.6"/>
<path d="M531.8 127.0H537.8" stroke-width="2.6"/>
<path d="M538.2 132.5H543.4" stroke-width="2.6"/>
<path d="M545.7 133.5V140.7M537.3 137.1H554.1" stroke-width="2.8"/>
<path d="M546.7 143.9H551.9" stroke-width="2.6"/>
<path d="M551.5 150.4H556.7" stroke-width="2.6"/>
<path d="M556.7 156.6H561.1" stroke-width="2.6"/>
<path d="M562.0 157.4V167.4M554.0 162.4H570.0" stroke-width="2.8"/>
<path d="M563.3 164.7V168.7" stroke-width="3.0"/>
<path d="M568.1 179.4V185.4" stroke-width="3.0"/>
<path d="M573.4 189.9V203.9" stroke-width="3.0"/>
<path d="M578.9 188.5V212.5M570.5 200.5H587.3" stroke-width="2.8"/>
<path d="M581.8 189.5V206.5" stroke-width="3.0"/>
<path d="M602.9 272.9V316.1M584.2 286.9H630.3" stroke-width="2.8"/>
<path d="M610.3 274.3V316.1M599.9 290.8H614.5" stroke-width="2.8"/>
<path d="M612.3 269.5V310.3M612.3 290.8H612.3" stroke-width="2.8"/>
<path d="M624.3 305.2V345.4M614.9 323.0H632.8" stroke-width="2.8"/>
<path d="M642.9 311.7V357.5M632.9 331.1H651.6" stroke-width="2.8"/>
<path d="M681.4 360.5V479.6M651.6 396.7H700.7" stroke-width="2.8"/>
</g>
</g>
<g font-family="'Liberation Serif', serif" font-size="27.5px" fill="#000" stroke="#000" stroke-width="0.35" letter-spacing="1.95" opacity="0.999">
<text x="118.2" y="89.1" text-anchor="end">10.00</text>
<text x="118.2" y="243.3" text-anchor="end">1.00</text>
<text x="118.2" y="397.5" text-anchor="end">0.10</text>
<text x="118.2" y="541.9" text-anchor="end">0.01</text>
<text x="125.6" y="578.6" text-anchor="middle">0.1</text>
<text x="248.1" y="578.6" text-anchor="middle">1.0</text>
<text x="370.6" y="578.6" text-anchor="middle">10.0</text>
<text x="493.2" y="578.6" text-anchor="middle">100.0</text>
<text x="615.7" y="578.6" text-anchor="middle">1000.0</text>
<text x="738.2" y="578.6" text-anchor="middle">10000.0</text>
<g transform="translate(0 608.0)">
<text x="424.6" y="0.0" font-size="27.5px" letter-spacing="0.00" textLength="15.3" lengthAdjust="spacingAndGlyphs">E</text>
<text x="467.1" y="1.5" font-size="32.0px" letter-spacing="0.00" textLength="7.0" lengthAdjust="spacingAndGlyphs">[</text>
<text x="478.2" y="0.0" font-size="27.5px" letter-spacing="0.00" textLength="15.2" lengthAdjust="spacingAndGlyphs">k</text>
<text x="494.0" y="0.0" font-size="27.5px" letter-spacing="0.00" textLength="13.9" lengthAdjust="spacingAndGlyphs">e</text>
<text x="508.5" y="0.0" font-size="27.5px" letter-spacing="0.00" textLength="18.4" lengthAdjust="spacingAndGlyphs">V</text>
<text x="528.8" y="1.5" font-size="32.0px" letter-spacing="0.00" textLength="6.8" lengthAdjust="spacingAndGlyphs">]</text>
</g>
<g transform="translate(23.3 409.9) rotate(-90)">
<text x="-0.4" y="0.0" font-size="27.5px" letter-spacing="0.00" textLength="14.7" lengthAdjust="spacingAndGlyphs">E</text>
<text x="29.1" y="0.0" font-size="27.5px" letter-spacing="0.00" textLength="13.8" lengthAdjust="spacingAndGlyphs">F</text>
<text x="44.5" y="3.7" font-size="19.5px" letter-spacing="0.00" textLength="10.5" lengthAdjust="spacingAndGlyphs">E</text>
<text x="75.2" y="1.5" font-size="32.0px" letter-spacing="0.00" textLength="7.2" lengthAdjust="spacingAndGlyphs">[</text>
<text x="85.2" y="0.0" font-size="27.5px" letter-spacing="0.00" textLength="15.2" lengthAdjust="spacingAndGlyphs">k</text>
<text x="101.0" y="0.0" font-size="27.5px" letter-spacing="0.00" textLength="13.9" lengthAdjust="spacingAndGlyphs">e</text>
<text x="115.5" y="0.0" font-size="27.5px" letter-spacing="0.00" textLength="17.7" lengthAdjust="spacingAndGlyphs">V</text>
<text x="145.7" y="0.0" font-size="27.5px" letter-spacing="0.00" textLength="16.5" lengthAdjust="spacingAndGlyphs">c</text>
<text x="165.9" y="0.0" font-size="27.5px" letter-spacing="0.00" textLength="21.7" lengthAdjust="spacingAndGlyphs">m</text>
<text x="188.2" y="-6.6" font-size="19.5px" letter-spacing="0.00" textLength="10.0" lengthAdjust="spacingAndGlyphs">−</text>
<text x="199.9" y="-6.6" font-size="19.5px" letter-spacing="0.00" textLength="10.4" lengthAdjust="spacingAndGlyphs">2</text>
<text x="226.2" y="0.0" font-size="27.5px" letter-spacing="0.00" textLength="14.6" lengthAdjust="spacingAndGlyphs">s</text>
<text x="242.4" y="-6.6" font-size="19.5px" letter-spacing="0.00" textLength="9.8" lengthAdjust="spacingAndGlyphs">−</text>
<text x="252.6" y="-6.6" font-size="19.5px" letter-spacing="0.00" textLength="7.4" lengthAdjust="spacingAndGlyphs">1</text>
<text x="264.0" y="1.5" font-size="32.0px" letter-spacing="0.00" textLength="6.8" lengthAdjust="spacingAndGlyphs">]</text>
</g>
</g>
</svg>
</body></html>
